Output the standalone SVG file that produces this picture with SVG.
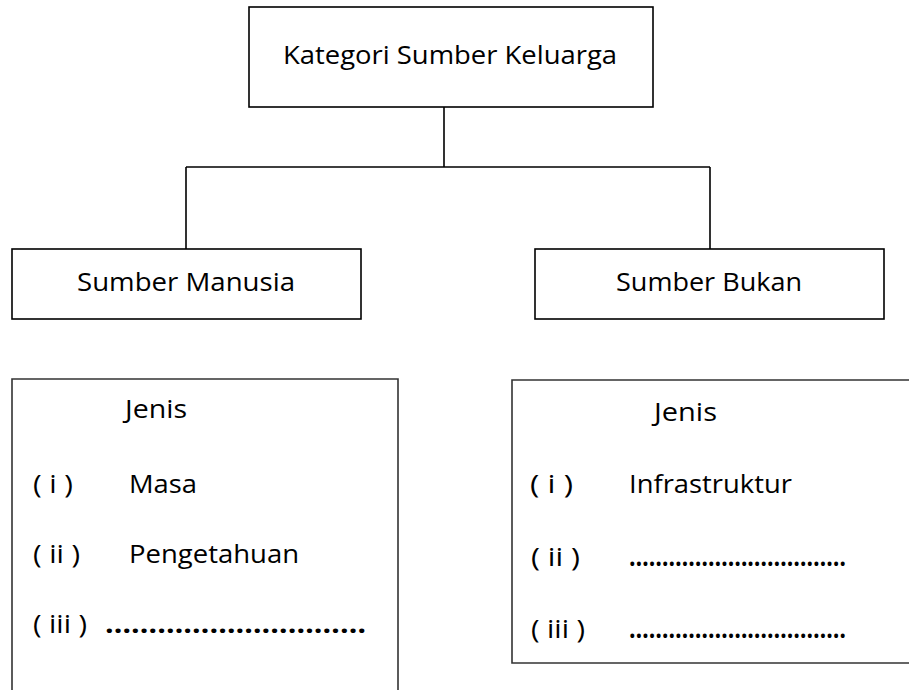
<svg xmlns="http://www.w3.org/2000/svg" width="909" height="690" viewBox="0 0 909 690">
<style>
.box{fill:#fff;stroke:#000;stroke-width:1.6}
.open{fill:none;stroke:#333;stroke-width:1.6}
.ln{fill:none;stroke:#000;stroke-width:1.6}
text{font-family:"Open Sans","Noto Sans","Liberation Sans",sans-serif;font-size:26px;fill:#000}
.c{text-anchor:middle}
.dots{font-weight:bold}
</style>
<rect width="909" height="690" fill="#fff"/>
<g id="connectors">
<path class="ln" d="M444,107 V167 M186,167 H710 M186,167 V249 M710,167 V249"/>
</g>
<g id="node-kategori">
<rect class="box" x="249" y="7" width="404" height="100"/>
<text class="c" x="450" y="64" textLength="334" lengthAdjust="spacingAndGlyphs">Kategori Sumber Keluarga</text>
</g>
<g id="node-manusia">
<rect class="box" x="12" y="249" width="349" height="70"/>
<text class="c" x="186" y="291" textLength="218" lengthAdjust="spacingAndGlyphs">Sumber Manusia</text>
</g>
<g id="node-bukan">
<rect class="box" x="535" y="249" width="349" height="70"/>
<text class="c" x="709" y="291" textLength="186" lengthAdjust="spacingAndGlyphs">Sumber Bukan</text>
</g>
<g id="jenis-manusia">
<path class="open" d="M12,690 V379 H398 V690"/>
<text x="125" y="418" textLength="62" lengthAdjust="spacingAndGlyphs">Jenis</text>
<text x="33" y="493" textLength="40" lengthAdjust="spacingAndGlyphs">( i )</text>
<text x="129" y="493" textLength="68" lengthAdjust="spacingAndGlyphs">Masa</text>
<text x="33" y="563" textLength="47" lengthAdjust="spacingAndGlyphs">( ii )</text>
<text x="129" y="563" textLength="170" lengthAdjust="spacingAndGlyphs">Pengetahuan</text>
<text x="33" y="633" textLength="54" lengthAdjust="spacingAndGlyphs">( iii )</text>
<text class="dots" x="105" y="633" textLength="261" lengthAdjust="spacingAndGlyphs">…………………………</text>
</g>
<g id="jenis-bukan">
<path class="open" d="M909,380 H512 V663 H909"/>
<text x="654" y="421" textLength="63" lengthAdjust="spacingAndGlyphs">Jenis</text>
<text x="530" y="493" textLength="43" lengthAdjust="spacingAndGlyphs">( i )</text>
<text x="629" y="493" textLength="163" lengthAdjust="spacingAndGlyphs">Infrastruktur</text>
<text x="531" y="566" textLength="49" lengthAdjust="spacingAndGlyphs">( ii )</text>
<text class="dots" x="629" y="566" textLength="217" lengthAdjust="spacingAndGlyphs">……………………………</text>
<text x="531" y="638" textLength="54" lengthAdjust="spacingAndGlyphs">( iii )</text>
<text class="dots" x="629" y="638" textLength="217" lengthAdjust="spacingAndGlyphs">……………………………</text>
</g>
</svg>
